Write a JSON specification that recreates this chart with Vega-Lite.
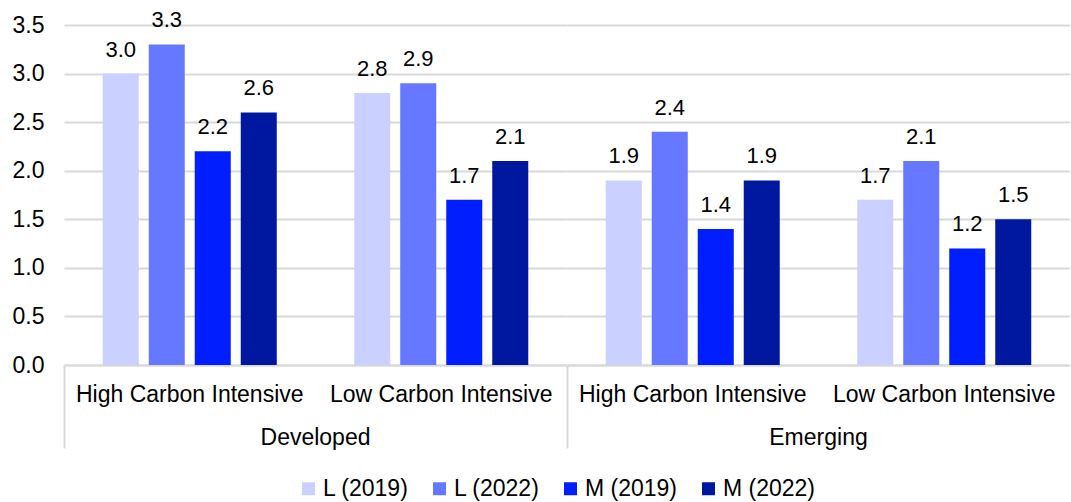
{
  "$schema": "https://vega.github.io/schema/vega-lite/v6.json",
  "padding": {"left": 12, "right": 0, "top": 9, "bottom": 0},
  "background": "white",
  "data": {
    "values": [
      {"region": "Developed", "sector": "High Carbon Intensive", "series": "L (2019)", "value": 3.0},
      {"region": "Developed", "sector": "High Carbon Intensive", "series": "L (2022)", "value": 3.3},
      {"region": "Developed", "sector": "High Carbon Intensive", "series": "M (2019)", "value": 2.2},
      {"region": "Developed", "sector": "High Carbon Intensive", "series": "M (2022)", "value": 2.6},
      {"region": "Developed", "sector": "Low Carbon Intensive", "series": "L (2019)", "value": 2.8},
      {"region": "Developed", "sector": "Low Carbon Intensive", "series": "L (2022)", "value": 2.9},
      {"region": "Developed", "sector": "Low Carbon Intensive", "series": "M (2019)", "value": 1.7},
      {"region": "Developed", "sector": "Low Carbon Intensive", "series": "M (2022)", "value": 2.1},
      {"region": "Emerging", "sector": "High Carbon Intensive", "series": "L (2019)", "value": 1.9},
      {"region": "Emerging", "sector": "High Carbon Intensive", "series": "L (2022)", "value": 2.4},
      {"region": "Emerging", "sector": "High Carbon Intensive", "series": "M (2019)", "value": 1.4},
      {"region": "Emerging", "sector": "High Carbon Intensive", "series": "M (2022)", "value": 1.9},
      {"region": "Emerging", "sector": "Low Carbon Intensive", "series": "L (2019)", "value": 1.7},
      {"region": "Emerging", "sector": "Low Carbon Intensive", "series": "L (2022)", "value": 2.1},
      {"region": "Emerging", "sector": "Low Carbon Intensive", "series": "M (2019)", "value": 1.2},
      {"region": "Emerging", "sector": "Low Carbon Intensive", "series": "M (2022)", "value": 1.5}
    ]
  },
  "facet": {
    "column": {
      "field": "region",
      "type": "nominal",
      "sort": ["Developed", "Emerging"],
      "header": {
        "title": null,
        "labelOrient": "bottom",
        "labelFont": "Liberation Sans",
        "labelFontSize": 23,
        "labelColor": "#000000",
        "labelPadding": -22
      }
    }
  },
  "spacing": 0,
  "spec": {
    "width": 503,
    "height": 340,
    "encoding": {
      "x": {
        "field": "sector",
        "type": "nominal",
        "sort": ["High Carbon Intensive", "Low Carbon Intensive"],
        "scale": {"paddingInner": 0, "paddingOuter": 0},
        "axis": {
          "title": null,
          "labelAngle": 0,
          "labelFont": "Liberation Sans",
          "labelFontSize": 23,
          "labelColor": "#000000",
          "labelPadding": -65,
          "labelLimit": 0,
          "bandPosition": 0,
          "tickSize": 83,
          "tickWidth": 2,
          "tickColor": {"condition": {"test": "datum.value === 'High Carbon Intensive'", "value": "#d9d9d9"}, "value": "transparent"},
          "domainColor": "#d9d9d9",
          "domainWidth": 2
        }
      },
      "xOffset": {
        "field": "series",
        "type": "nominal",
        "sort": ["L (2019)", "L (2022)", "M (2019)", "M (2022)"],
        "scale": {"paddingInner": 0.217, "paddingOuter": 0.842}
      },
      "y": {
        "field": "value",
        "type": "quantitative",
        "scale": {"domain": [0, 3.5], "nice": false},
        "axis": {
          "title": null,
          "values": [0, 0.5, 1, 1.5, 2, 2.5, 3, 3.5],
          "format": ".1f",
          "labelFont": "Liberation Sans",
          "labelFontSize": 23,
          "labelColor": "#000000",
          "labelPadding": 20,
          "ticks": false,
          "domain": false,
          "gridColor": "#d9d9d9",
          "gridWidth": 2
        }
      }
    },
    "layer": [
      {
        "mark": {"type": "bar"},
        "encoding": {
          "color": {
            "field": "series",
            "type": "nominal",
            "sort": ["L (2019)", "L (2022)", "M (2019)", "M (2022)"],
            "scale": {
              "domain": ["L (2019)", "L (2022)", "M (2019)", "M (2022)"],
              "range": ["#CAD0FF", "#6678FF", "#001EFF", "#0018A0"]
            },
            "legend": {
              "title": null,
              "orient": "none",
              "legendX": 233,
              "legendY": 452,
              "direction": "horizontal",
              "symbolType": "square",
              "symbolSize": 169,
              "symbolStrokeWidth": 0,
              "labelFont": "Liberation Sans",
              "labelFontSize": 23,
              "labelColor": "#000000",
              "labelOffset": 3,
              "columnPadding": 19
            }
          }
        }
      },
      {
        "mark": {"type": "text", "baseline": "alphabetic", "dy": -17, "font": "Liberation Sans", "fontSize": 22, "color": "#000000"},
        "encoding": {
          "text": {"field": "value", "type": "quantitative", "format": ".1f"}
        }
      }
    ]
  },
  "config": {
    "view": {"stroke": null},
    "axis": {"labelFont": "Liberation Sans"}
  }
}
